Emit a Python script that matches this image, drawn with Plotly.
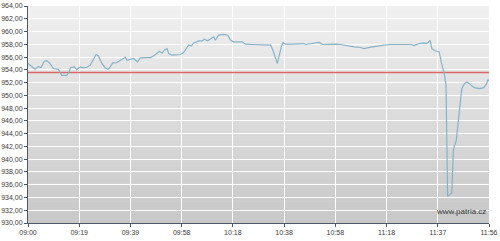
import plotly.graph_objects as go

# minutes after 09:00 and index values
minutes = [0, 1.4, 2.7, 3.9, 5.0, 6.2, 7.2, 8.4, 9.7, 11.6, 12.9, 14.8, 15.7, 16.3, 17.7, 18.6,
           19.9, 21.2, 22.5, 23.7, 25.0, 26.0, 26.9, 28.2, 29.5, 30.5, 31.4, 32.3, 33.9, 35.2,
           36.5, 37.1, 37.8, 39.0, 40.3, 41.8, 42.9, 44.8, 46.7, 47.9, 49.5, 50.2, 51.2, 52.1,
           53.1, 53.7, 55.0, 56.2, 58.2, 59.4, 60.5, 61.3, 62.4, 63.3, 65.2, 66.5, 67.3, 68.6,
           69.9, 70.9, 71.5, 72.8, 74.7, 76.3, 77.3, 78.5, 81.8, 83.0, 85.6, 89.4, 92.6, 93.5,
           94.5, 95.2, 95.8, 96.7, 97.4, 98.3, 100.9, 103.4, 105.3, 106.0, 108.5, 111.1, 112.6,
           114.9, 117.5, 119.4, 121.9, 124.5, 127.0, 128.3, 130.9, 133.4, 135.9, 138.5, 142.3,
           146.2, 147.4, 149.3, 151.2, 152.3, 153.5, 154.2, 155.7, 157.0, 157.9, 158.9, 159.6,
           160.2, 161.2, 161.8, 162.4, 162.8, 163.5, 164.7, 165.6, 166.6, 167.6, 168.8, 170.4,
           172.3, 174.0, 175.1, 175.6, 176.0]
values = [954.98, 954.45, 954.08, 954.5, 954.35, 955.34, 955.45, 955.0, 954.2, 954.08, 953.14,
          953.14, 953.66, 954.35, 954.45, 954.04, 954.45, 954.3, 954.4, 954.7, 955.77, 956.4,
          956.18, 955.0, 954.3, 954.08, 954.45, 955.08, 955.14, 955.5, 955.77, 955.97, 955.5,
          955.6, 955.77, 955.23, 955.86, 955.92, 955.92, 956.18, 956.65, 956.92, 956.6, 957.12,
          957.34, 956.55, 956.29, 956.29, 956.4, 956.71, 957.34, 957.86, 957.75, 958.22, 958.54,
          958.54, 958.8, 958.54, 958.92, 959.17, 958.65, 959.43, 959.54, 959.43, 958.65, 958.38,
          958.38, 958.02, 957.97, 957.97, 957.86, 957.07, 955.77, 954.98, 956.02, 957.6, 958.29,
          958.02, 958.02, 958.02, 958.12, 957.97, 958.12, 958.29, 957.97, 958.02, 958.02, 957.97,
          957.75, 957.6, 957.5, 957.34, 957.55, 957.75, 957.86, 957.97, 957.97, 957.97, 957.81,
          958.12, 958.22, 958.12, 958.6, 957.3, 956.95, 956.8, 954.98, 953.4, 951.57, 934.2,
          934.5, 934.77, 941.33, 942.12, 942.9, 947.1, 951.05, 951.83, 952.09, 951.72, 951.2,
          951.05, 951.2, 951.83, 952.46, 952.24]
reference_level = 953.6

x_tick_labels = ["09:00", "09:19", "09:39", "09:58", "10:18", "10:38", "10:58", "11:18", "11:37", "11:56"]
session_minutes = 176
y_min, y_max, y_step = 930, 964, 2

fig = go.Figure()

# gradient background bands
n_bands = 60
top = (240, 240, 240)
bot = (200, 200, 200)
for i in range(n_bands):
    f = i / (n_bands - 1)
    c = tuple(int(round(top[k] + (bot[k] - top[k]) * f)) for k in range(3))
    fig.add_shape(type="rect", xref="paper", yref="paper",
                  x0=0, x1=1, y1=1 - i / n_bands, y0=1 - (i + 1) / n_bands - 0.002,
                  fillcolor="rgb(%d,%d,%d)" % c, line_width=0, layer="below")

fig.add_trace(go.Scatter(x=[0, session_minutes], y=[reference_level, reference_level],
                         mode="lines", line=dict(color="rgb(216,104,106)", width=1.5),
                         hoverinfo="skip"))
fig.add_trace(go.Scatter(x=minutes, y=values, mode="lines",
                         line=dict(color="#86b3ca", width=1.2)))

tickvals = [i * session_minutes / (len(x_tick_labels) - 1) for i in range(len(x_tick_labels))]

font = dict(family="Liberation Sans, Arial", size=7, color="#3a3a3a")

fig.update_layout(
    width=500, height=241,
    margin=dict(l=28, r=11, t=6, b=18, autoexpand=False),
    paper_bgcolor="white", plot_bgcolor="#e6e6e6",
    showlegend=False,
    separators=", ",
    font=font,
    xaxis=dict(range=[0, session_minutes], tickvals=tickvals, ticktext=x_tick_labels,
               showgrid=True, gridcolor="white", gridwidth=1, zeroline=False,
               showline=True, linecolor="#4d5966", linewidth=1, automargin=False,
               ticks="outside", ticklen=3, tickcolor="#4d5966", tickfont=font),
    yaxis=dict(range=[y_min, y_max], dtick=y_step, tick0=y_min, tickformat=".2f",
               showgrid=True, gridcolor="white", gridwidth=1, zeroline=False,
               showline=True, linecolor="#4d5966", linewidth=1, automargin=False,
               ticks="outside", ticklen=3, tickcolor="#4d5966", tickfont=font,
               ticklabelstandoff=0),
    annotations=[dict(text="www.patria.cz", xref="paper", yref="paper", x=0.998, y=0.055,
                      xanchor="right", yanchor="middle", showarrow=False,
                      font=dict(family="Liberation Sans, Arial", size=8, color="#333"))],
)

fig.write_html("out.html")
